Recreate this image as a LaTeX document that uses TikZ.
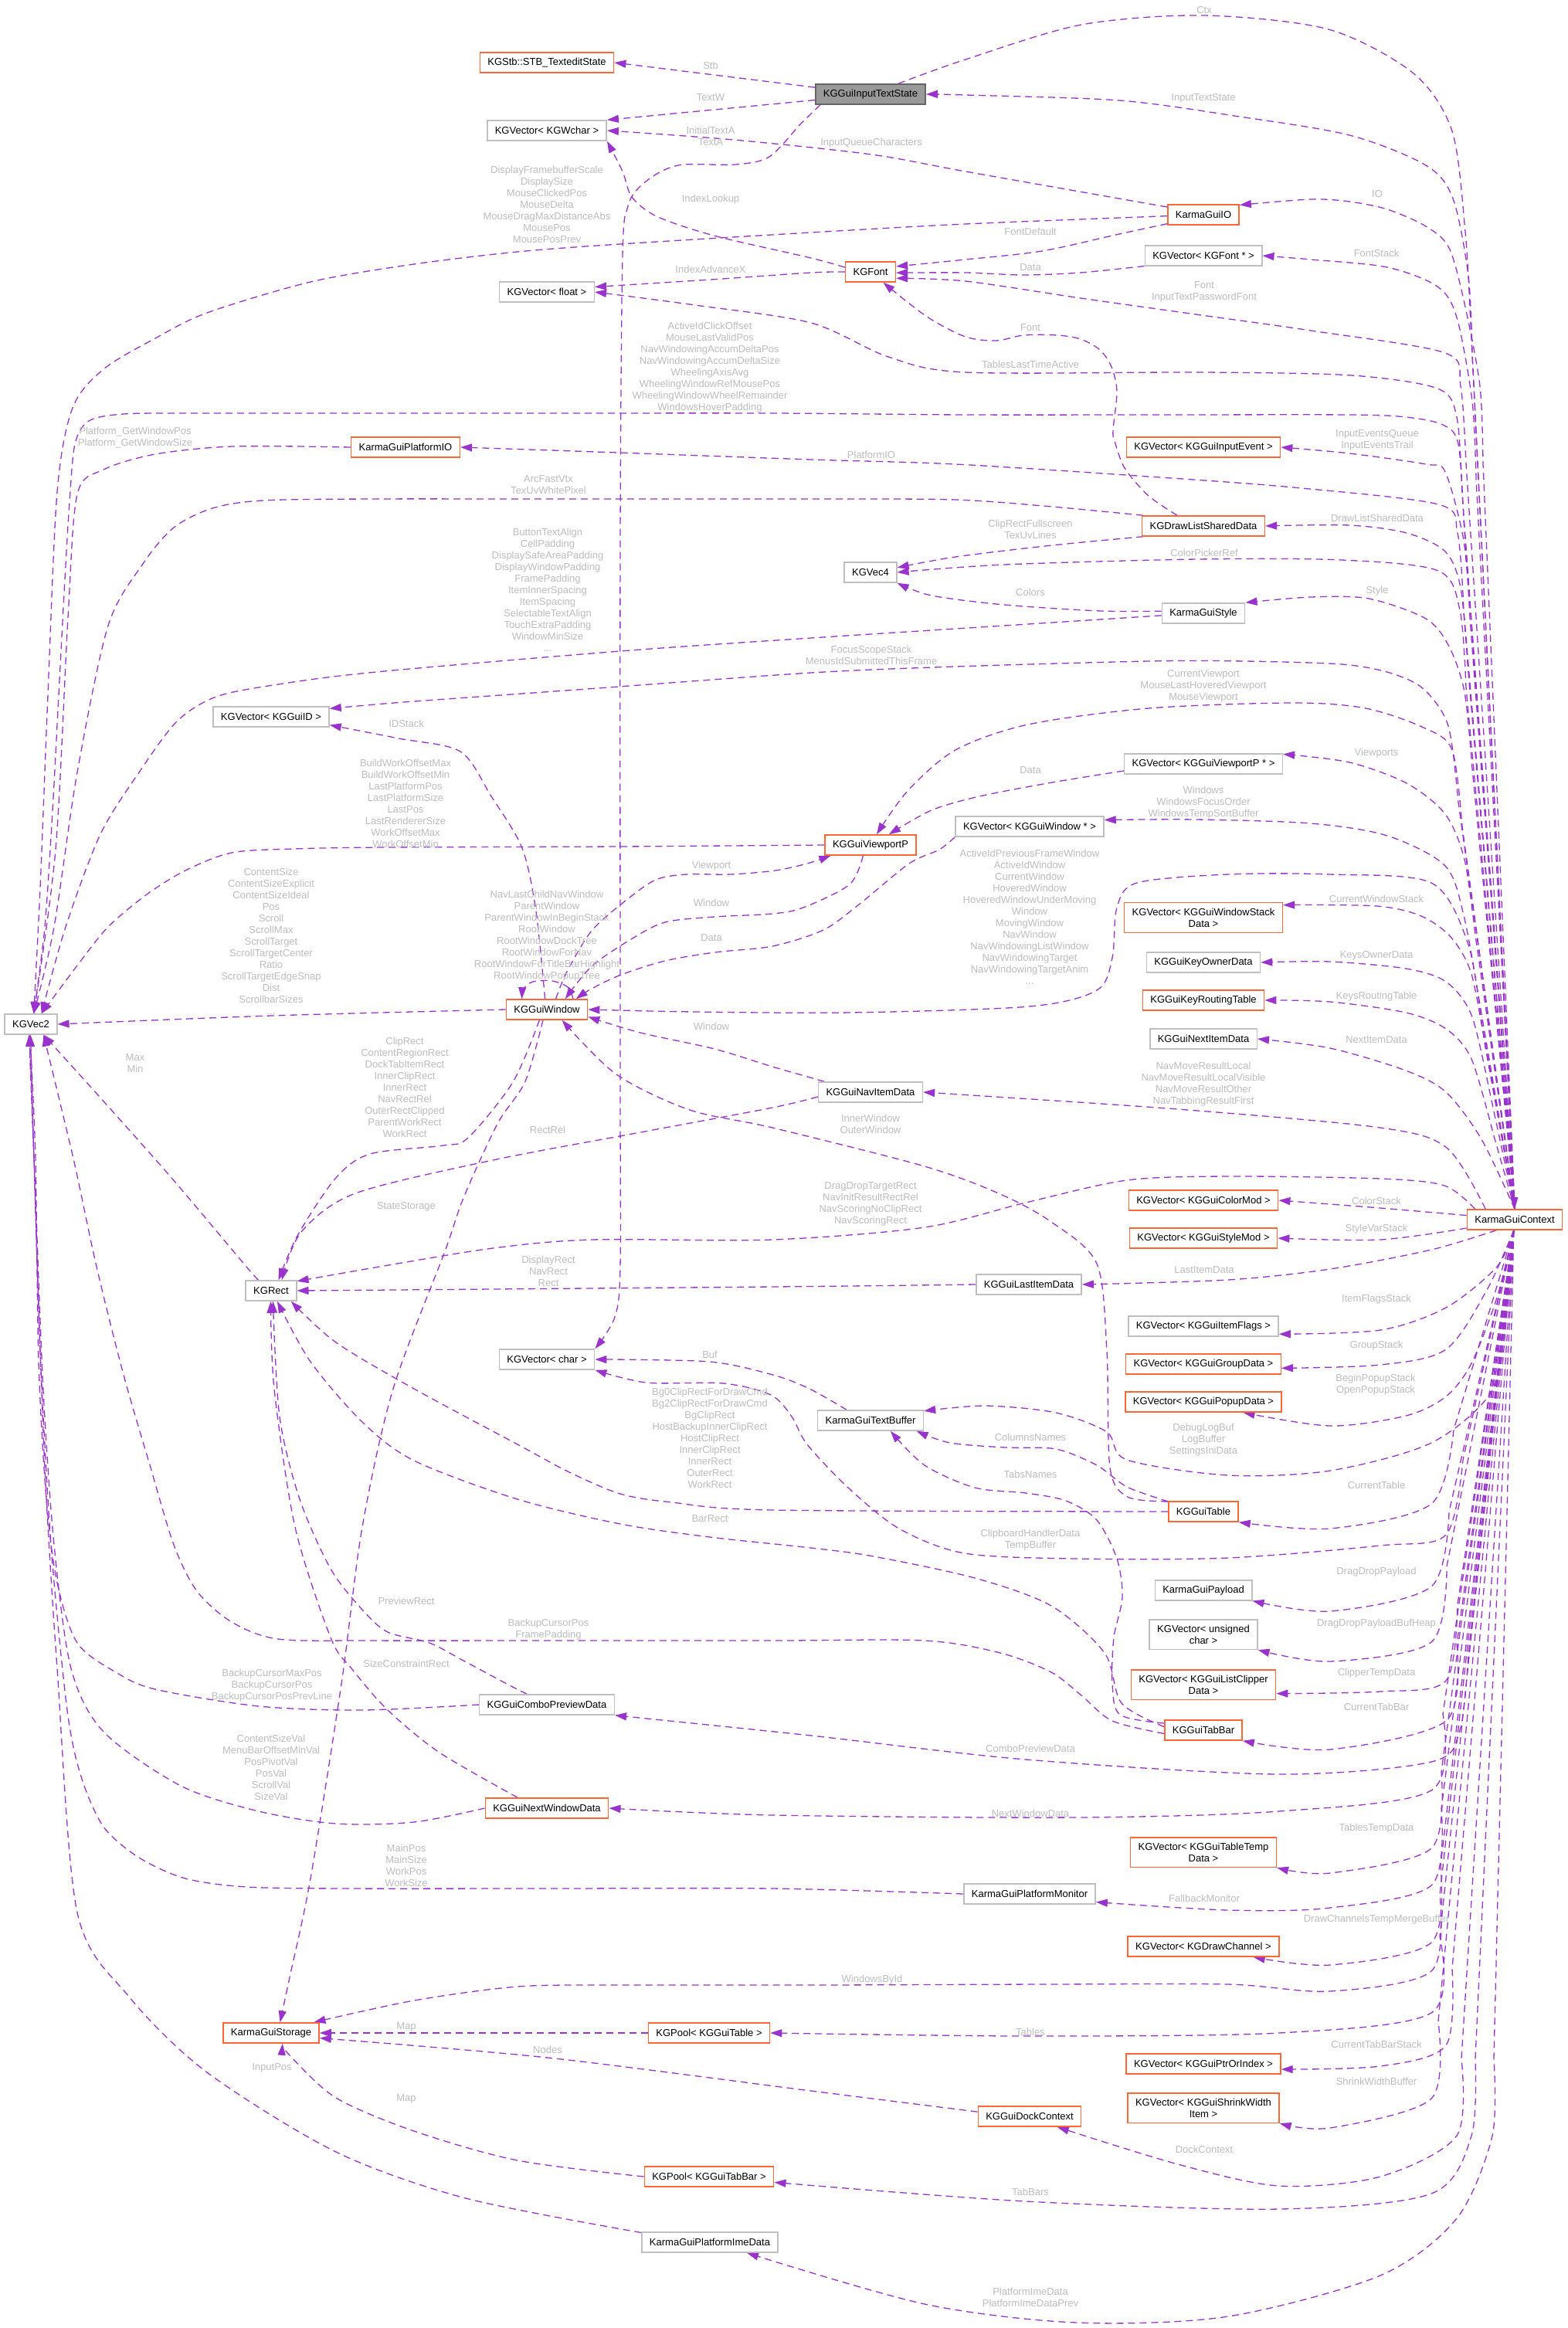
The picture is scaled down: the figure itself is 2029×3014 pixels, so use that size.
\documentclass[tikz,border=0pt]{standalone}
\usepackage{fontspec}
\setmainfont{Liberation Sans}
\usetikzlibrary{arrows.meta}
\definecolor{edgec}{HTML}{9A32CD}
\definecolor{orangeb}{HTML}{FF6633}
\definecolor{grayb}{HTML}{BFBFBF}
\definecolor{labelc}{HTML}{BDBDBD}
\definecolor{grayf}{HTML}{999999}
\definecolor{grayd}{HTML}{666666}
\newcommand\kgfont{\fontsize{13pt}{15pt}\selectfont}
\pgfdeclarelayer{edgelayer}
\pgfdeclarelayer{bglayer}
\pgfsetlayers{bglayer,edgelayer,main}
\tikzset{
 box/.style={draw=grayb, line width=1.5pt, fill=white, minimum height=26pt, inner xsep=10pt, inner ysep=7pt, font=\kgfont, align=center, text=black},
 obox/.style={box, draw=orangeb},
 fbox/.style={box, draw=grayd, fill=grayf},
 lbl/.style={text=labelc, font=\kgfont, align=center, inner sep=0pt},
 uedge/.style={draw=edgec, line width=1.3pt, dash pattern=on 9pt off 6pt, -{Triangle[length=15pt,width=10pt]}}
}
\begin{document}
\begin{tikzpicture}[x=1pt,y=-1pt]
\begin{pgfonlayer}{bglayer}
\fill[white] (0,0) rectangle (2029,3014);
\end{pgfonlayer}
\useasboundingbox (0,0) rectangle (2029,3014);
% ---------------- nodes
\node[obox] (stb) at (708,81) {KGStb::STB\_TexteditState};
\node[fbox] (its) at (1127,122) {KGGuiInputTextState};
\node[box] (wchar) at (708,169) {KGVector< KGWchar >};
\node[obox] (io) at (1558,278) {KarmaGuiIO};
\node[box] (fontv) at (1558,331) {KGVector< KGFont * >};
\node[obox] (font) at (1127,352) {KGFont};
\node[box] (float) at (708,378) {KGVector< float >};
\node[obox] (pio) at (525,579) {KarmaGuiPlatformIO};
\node[obox] (ievent) at (1558,579) {KGVector< KGGuiInputEvent >};
\node[obox] (dlsd) at (1558,681) {KGDrawListSharedData};
\node[box] (vec4) at (1127,741) {KGVec4};
\node[box] (style) at (1558,794) {KarmaGuiStyle};
\node[box] (id) at (351,928) {KGVector< KGGuiID >};
\node[box] (vpv) at (1558,989) {KGVector< KGGuiViewportP * >};
\node[box] (winv) at (1333,1070) {KGVector< KGGuiWindow * >};
\node[obox] (vp) at (1127,1094) {KGGuiViewportP};
\node[obox] (wstack) at (1558,1188) {KGVector< KGGuiWindowStack\\Data >};
\node[box] (keyown) at (1558,1246) {KGGuiKeyOwnerData};
\node[obox] (keyrt) at (1558,1295) {KGGuiKeyRoutingTable};
\node[box] (nextitem) at (1558,1345) {KGGuiNextItemData};
\node[box] (vec2) at (40,1326) {KGVec2};
\node[obox] (win) at (708,1307) {KGGuiWindow};
\node[box] (nav) at (1127,1414) {KGGuiNavItemData};
\node[obox] (ctx) at (1961,1579) {KarmaGuiContext};
\node[obox] (colmod) at (1558,1554) {KGVector< KGGuiColorMod >};
\node[obox] (stylemod) at (1558,1603) {KGVector< KGGuiStyleMod >};
\node[box] (rect) at (351,1671) {KGRect};
\node[box] (last) at (1332,1663) {KGGuiLastItemData};
\node[box] (flags) at (1558,1717) {KGVector< KGGuiItemFlags >};
\node[obox] (group) at (1558,1766) {KGVector< KGGuiGroupData >};
\node[obox] (popup) at (1558,1815) {KGVector< KGGuiPopupData >};
\node[box] (char) at (708,1760) {KGVector< char >};
\node[box] (tbuf) at (1127,1839) {KarmaGuiTextBuffer};
\node[obox] (table) at (1558,1957) {KGGuiTable};
\node[box] (payload) at (1558,2059) {KarmaGuiPayload};
\node[box] (uchar) at (1558,2116) {KGVector< unsigned\\char >};
\node[obox] (clip) at (1558,2181) {KGVector< KGGuiListClipper\\Data >};
\node[obox] (tabbar) at (1558,2240) {KGGuiTabBar};
\node[box] (combo) at (708,2207) {KGGuiComboPreviewData};
\node[obox] (nextwin) at (708,2341) {KGGuiNextWindowData};
\node[obox] (ttemp) at (1558,2398) {KGVector< KGGuiTableTemp\\Data >};
\node[box] (mon) at (1333,2452) {KarmaGuiPlatformMonitor};
\node[obox] (drawch) at (1558,2520) {KGVector< KGDrawChannel >};
\node[obox] (storage) at (351,2632) {KarmaGuiStorage};
\node[obox] (pooltab) at (918,2632) {KGPool< KGGuiTable >};
\node[obox] (ptr) at (1558,2672) {KGVector< KGGuiPtrOrIndex >};
\node[obox] (shrink) at (1558,2729) {KGVector< KGGuiShrinkWidth\\Item >};
\node[obox] (dock) at (1333,2740) {KGGuiDockContext};
\node[obox] (pooltabbar) at (918,2818) {KGPool< KGGuiTabBar >};
\node[box] (ime) at (919,2903) {KarmaGuiPlatformImeData};
% ---------------- labels
\node[lbl] (l01) at (920,85) {Stb};
\node[lbl] (l02) at (920,126) {TextW};
\node[lbl] (l03) at (920,176) {InitialTextA\\TextA};
\node[lbl] (l04) at (920,258) {IndexLookup};
\node[lbl] (l05) at (920,349) {IndexAdvanceX};
\node[lbl] (l06) at (919,476) {ActiveIdClickOffset\\MouseLastValidPos\\NavWindowingAccumDeltaPos\\NavWindowingAccumDeltaSize\\WheelingAxisAvg\\WheelingWindowRefMousePos\\WheelingWindowWheelRemainder\\WindowsHoverPadding};
\node[lbl] (l07) at (921,1121) {Viewport};
\node[lbl] (l08) at (921,1169) {Window};
\node[lbl] (l09) at (921,1214) {Data};
\node[lbl] (l10) at (921,1329) {Window};
\node[lbl] (l11) at (919,1754) {Buf};
\node[lbl] (l12) at (919,1862) {Bg0ClipRectForDrawCmd\\Bg2ClipRectForDrawCmd\\BgClipRect\\HostBackupInnerClipRect\\HostClipRect\\InnerClipRect\\InnerRect\\OuterRect\\WorkRect};
\node[lbl] (l13) at (919,1966) {BarRect};
\node[lbl] (l14) at (708,265) {DisplayFramebufferScale\\DisplaySize\\MouseClickedPos\\MouseDelta\\MouseDragMaxDistanceAbs\\MousePos\\MousePosPrev};
\node[lbl] (l15) at (710,628) {ArcFastVtx\\TexUvWhitePixel};
\node[lbl] (l16) at (709,764) {ButtonTextAlign\\CellPadding\\DisplaySafeAreaPadding\\DisplayWindowPadding\\FramePadding\\ItemInnerSpacing\\ItemSpacing\\SelectableTextAlign\\TouchExtraPadding\\WindowMinSize\\...};
\node[lbl] (l17) at (708,1212) {NavLastChildNavWindow\\ParentWindow\\ParentWindowInBeginStack\\RootWindow\\RootWindowDockTree\\RootWindowForNav\\RootWindowForTitleBarHighlight\\RootWindowPopupTree};
\node[lbl] (l18) at (709,1463) {RectRel};
\node[lbl] (l19) at (710,1646) {DisplayRect\\NavRect\\Rect};
\node[lbl] (l20) at (710,2110) {BackupCursorPos\\FramePadding};
\node[lbl] (l21) at (709,2654) {Nodes};
\node[lbl] (l22) at (526,937) {IDStack};
\node[lbl] (l23) at (525,1040) {BuildWorkOffsetMax\\BuildWorkOffsetMin\\LastPlatformPos\\LastPlatformSize\\LastPos\\LastRendererSize\\WorkOffsetMax\\WorkOffsetMin};
\node[lbl] (l24) at (524,1408) {ClipRect\\ContentRegionRect\\DockTabItemRect\\InnerClipRect\\InnerRect\\NavRectRel\\OuterRectClipped\\ParentWorkRect\\WorkRect};
\node[lbl] (l25) at (526,1562) {StateStorage};
\node[lbl] (l26) at (526,2073) {PreviewRect};
\node[lbl] (l27) at (526,2154) {SizeConstraintRect};
\node[lbl] (l28) at (526,2415) {MainPos\\MainSize\\WorkPos\\WorkSize};
\node[lbl] (l29) at (526,2624) {Map};
\node[lbl] (l30) at (526,2717) {Map};
\node[lbl] (l31) at (351,1219) {ContentSize\\ContentSizeExplicit\\ContentSizeIdeal\\Pos\\Scroll\\ScrollMax\\ScrollTarget\\ScrollTargetCenter\\Ratio\\ScrollTargetEdgeSnap\\Dist\\ScrollbarSizes\\...};
\node[lbl] (l32) at (352,2182) {BackupCursorMaxPos\\BackupCursorPos\\BackupCursorPosPrevLine};
\node[lbl] (l33) at (351,2288) {ContentSizeVal\\MenuBarOffsetMinVal\\PosPivotVal\\PosVal\\ScrollVal\\SizeVal};
\node[lbl] (l34) at (352,2677) {InputPos};
\node[lbl] (l35) at (175,567) {Platform\_GetWindowPos\\Platform\_GetWindowSize};
\node[lbl] (l36) at (175,1377) {Max\\Min};
\node[lbl] (l37) at (1128,185) {InputQueueCharacters};
\node[lbl] (l38) at (1128,589) {PlatformIO};
\node[lbl] (l39) at (1128,848) {FocusScopeStack\\MenusIdSubmittedThisFrame};
\node[lbl] (l40) at (1127,1455) {InnerWindow\\OuterWindow};
\node[lbl] (l41) at (1127,1559) {DragDropTargetRect\\NavInitResultRectRel\\NavScoringNoClipRect\\NavScoringRect};
\node[lbl] (l42) at (1129,2563) {WindowsById};
\node[lbl] (l43) at (1334,300) {FontDefault};
\node[lbl] (l44) at (1334,346) {Data};
\node[lbl] (l45) at (1334,424) {Font};
\node[lbl] (l46) at (1334,472) {TablesLastTimeActive};
\node[lbl] (l47) at (1334,685) {ClipRectFullscreen\\TexUvLines};
\node[lbl] (l48) at (1334,767) {Colors};
\node[lbl] (l49) at (1334,997) {Data};
\node[lbl] (l50) at (1333,1187) {ActiveIdPreviousFrameWindow\\ActiveIdWindow\\CurrentWindow\\HoveredWindow\\HoveredWindowUnderMoving\\Window\\MovingWindow\\NavWindow\\NavWindowingListWindow\\NavWindowingTarget\\NavWindowingTargetAnim\\...};
\node[lbl] (l51) at (1334,1861) {ColumnsNames};
\node[lbl] (l52) at (1334,1909) {TabsNames};
\node[lbl] (l53) at (1334,1994) {ClipboardHandlerData\\TempBuffer};
\node[lbl] (l54) at (1334,2264) {ComboPreviewData};
\node[lbl] (l55) at (1334,2348) {NextWindowData};
\node[lbl] (l56) at (1334,2631) {Tables};
\node[lbl] (l57) at (1334,2838) {TabBars};
\node[lbl] (l58) at (1334,2974) {PlatformImeData\\PlatformImeDataPrev};
\node[lbl] (l59) at (1559,13) {Ctx};
\node[lbl] (l60) at (1558,127) {InputTextState};
\node[lbl] (l61) at (1559,378) {Font\\InputTextPasswordFont};
\node[lbl] (l62) at (1559,716) {ColorPickerRef};
\node[lbl] (l63) at (1558,888) {CurrentViewport\\MouseLastHoveredViewport\\MouseViewport};
\node[lbl] (l64) at (1558,1039) {Windows\\WindowsFocusOrder\\WindowsTempSortBuffer};
\node[lbl] (l65) at (1558,1404) {NavMoveResultLocal\\NavMoveResultLocalVisible\\NavMoveResultOther\\NavTabbingResultFirst};
\node[lbl] (l66) at (1559,1644) {LastItemData};
\node[lbl] (l67) at (1558,1864) {DebugLogBuf\\LogBuffer\\SettingsIniData};
\node[lbl] (l68) at (1559,2458) {FallbackMonitor};
\node[lbl] (l69) at (1559,2783) {DockContext};
\node[lbl] (l70) at (1783,251) {IO};
\node[lbl] (l71) at (1782,328) {FontStack};
\node[lbl] (l72) at (1783,570) {InputEventsQueue\\InputEventsTrail};
\node[lbl] (l73) at (1783,671) {DrawListSharedData};
\node[lbl] (l74) at (1783,765) {Style};
\node[lbl] (l75) at (1782,975) {Viewports};
\node[lbl] (l76) at (1782,1164) {CurrentWindowStack};
\node[lbl] (l77) at (1782,1237) {KeysOwnerData};
\node[lbl] (l78) at (1782,1290) {KeysRoutingTable};
\node[lbl] (l79) at (1782,1346) {NextItemData};
\node[lbl] (l80) at (1782,1555) {ColorStack};
\node[lbl] (l81) at (1782,1591) {StyleVarStack};
\node[lbl] (l82) at (1782,1682) {ItemFlagsStack};
\node[lbl] (l83) at (1782,1742) {GroupStack};
\node[lbl] (l84) at (1781,1793) {BeginPopupStack\\OpenPopupStack};
\node[lbl] (l85) at (1782,1923) {CurrentTable};
\node[lbl] (l86) at (1782,2035) {DragDropPayload};
\node[lbl] (l87) at (1782,2102) {DragDropPayloadBufHeap};
\node[lbl] (l88) at (1782,2166) {ClipperTempData};
\node[lbl] (l89) at (1782,2210) {CurrentTabBar};
\node[lbl] (l90) at (1782,2367) {TablesTempData};
\node[lbl] (l91) at (1782,2485) {DrawChannelsTempMergeBuffer};
\node[lbl] (l92) at (1782,2647) {CurrentTabBarStack};
\node[lbl] (l93) at (1782,2695) {ShrinkWidthBuffer};
% ---------------- edges
\begin{pgfonlayer}{edgelayer}
% InputTextState
\draw[uedge] (its.173) -- (stb.east);
\draw[uedge] (its.-174) -- (wchar.10);
\draw[uedge] plot[smooth] coordinates {(its.-168) (1037,160) (996,203) (952,213) (885,213) (854,223) (827,243) (813,267) (806,330) (803,700) (803,1400) (803,1640) (796,1705) (char.north east)};
\draw[uedge] plot[smooth] coordinates {(its.21) (1250,77) (1400,32) (1559,20) (1720,38) (1830,95) (1880,170) (1897,300) (1903,400)} -- (ctx.north);
% IO
\draw[uedge] plot[smooth] coordinates {(io.168) (1250,222) (1128,200) (950,181) (wchar.east)};
\draw[uedge] plot[smooth] coordinates {(io.-178) (1250,290) (1050,301) (803,316) (670,326) (536,342) (402,365) (268,405) (201,438) (134,478) (94,528) (74,637) (62,900) (52,1150) (vec2.75)};
\draw[uedge] plot[smooth] coordinates {(io.-166) (1449,303) (1349,325) (1250,336) (font.12)};
\draw[uedge] plot[smooth] coordinates {(fontv.-170) (1399,353) (1325,356) (1250,353) (font.-2)};
% Font
\draw[uedge] plot[smooth] coordinates {(font.170) (1050,334) (924,305) (850,280) (818,255) (806,222) (wchar.-10)};
\draw[uedge] plot[smooth] coordinates {(font.west) (1050,353) (920,362) (float.6)};
% Context upper
\draw[uedge] (ctx.north) -- plot[smooth] coordinates {(1906,457) (1901,357) (1881,257) (1846,214) (1747,175) (1598,150) (1449,130) (1250,123) (its.east)};
\draw[uedge] (ctx.north) -- plot[smooth] coordinates {(1920,600) (1916,500) (1896,393) (1876,321) (1846,293) (1796,271) (1747,261) (1697,258) (io.15)};
\draw[uedge] (ctx.north) -- plot[smooth] coordinates {(1911,620) (1906,520) (1886,411) (1861,371) (1796,346) (1697,336) (fontv.east)};
\draw[uedge] (ctx.north) -- plot[smooth] coordinates {(1898,600) (1891,500) (1871,457) (1697,428) (1548,407) (1399,386) (1250,364) (font.-14)};
\draw[uedge] (ctx.north) -- plot[smooth] coordinates {(1893,640) (1886,540) (1861,503) (1750,486) (1558,482) (1250,482) (1150,462) (1050,418) (900,395) (float.east)};
\draw[uedge] (ctx.north) -- plot[smooth] coordinates {(1895,675) (1888,575) (1868,550) (1820,540) (1747,537) (1500,537) (1250,537) (1000,535) (700,535) (400,535) (250,535) (160,536) (115,545) (97,575) (90,650) (84,750) (76,900) (68,1050) (58,1200) (vec2.75)};
\draw[uedge] (ctx.north) -- plot[smooth] coordinates {(1895,790) (1887,690) (1862,653) (1674,631) (1487,617) (1237,601) (1050,595) (800,586) (pio.east)};
\draw[uedge] (ctx.north) -- plot[smooth] coordinates {(1903,800) (1895,700) (1871,611) (1846,601) (1747,587) (ievent.east)};
\draw[uedge] (ctx.north) -- plot[smooth] coordinates {(1900,860) (1891,761) (1871,714) (1821,690) (1747,680) (dlsd.east)};
\draw[uedge] (ctx.north) -- plot[smooth] coordinates {(1898,890) (1890,790) (1862,739) (1737,725) (1550,724) (1300,731) (vec4.east)};
\draw[uedge] (ctx.north) -- plot[smooth] coordinates {(1906,995) (1896,896) (1876,837) (1846,801) (1772,775) (1697,773) (style.north east)};
\draw[uedge] (ctx.north) -- plot[smooth] coordinates {(1888,1039) (1875,940) (1843,892) (1799,871) (1737,860) (1612,856) (1487,856) (1237,863) (1050,871) (774,891) (620,902) (510,910) (id.8)};
\draw[uedge] (ctx.north) -- plot[smooth] coordinates {(1893,1070) (1880,971) (1843,942) (1768,917) (1674,910) (1487,917) (1331,938) (1237,971) (1175,1024) (vp.60)};
\draw[uedge] (ctx.north) -- plot[smooth] coordinates {(1910,1211) (1896,1113) (1871,1054) (1821,1014) (1747,987) (vpv.7)};
\draw[uedge] (ctx.north) -- plot[smooth] coordinates {(1913,1283) (1895,1185) (1871,1121) (1796,1082) (1697,1066) (1548,1061) (winv.5)};
\draw[uedge] (ctx.north) -- plot[smooth] coordinates {(1917,1316) (1900,1220) (1853,1143) (1722,1132) (1590,1132) (1472,1143) (1446,1175) (1440,1240) (1420,1282) (1333,1303) (1100,1311) (900,1310) (win.east)};
\draw[uedge] (ctx.north) -- plot[smooth] coordinates {(1923,1356) (1905,1261) (1879,1214) (1840,1186) (1782,1173) (wstack.9)};
\draw[uedge] (ctx.north) -- plot[smooth] coordinates {(1927,1406) (1905,1314) (1872,1271) (1820,1254) (1722,1245) (keyown.east)};
\draw[uedge] (ctx.north) -- plot[smooth] coordinates {(1933,1467) (1905,1371) (1872,1332) (1820,1311) (1722,1297) (keyrt.east)};
\draw[uedge] plot[smooth] coordinates {(ctx.north) (1918,1475) (1872,1414) (1820,1386) (1722,1357) (nextitem.east)};
\draw[uedge] plot[smooth] coordinates {(ctx.160) (1873,1486) (1787,1460) (1525,1436) (nav.east)};
\draw[uedge] plot[smooth] coordinates {(ctx.165) (1870,1535) (1787,1526) (1590,1523) (1459,1528) (1328,1557) (1197,1589) (1000,1605) (766,1605) (638,1616) (491,1640) (rect.20)};
\draw[uedge] plot[smooth] coordinates {(ctx.175) (1787,1564) (colmod.east)};
\draw[uedge] plot[smooth] coordinates {(ctx.-170) (1787,1605) (stylemod.east)};
% PlatformIO, DrawListSharedData, Style
\draw[uedge] plot[smooth] coordinates {(pio.west) (301,578) (201,588) (134,608) (100,640) (88,800) (72,1100) (vec2.75)};
\draw[uedge] plot[smooth] coordinates {(dlsd.158) (1487,642) (1456,606) (1443,571) (1441,557) (1446,507) (1439,475) (1424,453) (1399,439) (1369,434) (1325,434) (1290,441) (1250,436) (1200,410) (font.-40)};
\draw[uedge] plot[smooth] coordinates {(dlsd.-170) (1362,706) (1237,721) (vec4.10)};
\draw[uedge] plot[smooth] coordinates {(dlsd.170) (1362,656) (1237,647) (1050,646) (700,646) (480,646) (340,648) (275,658) (225,683) (185,730) (140,810) (100,1000) (70,1200) (vec2.75)};
\draw[uedge] plot[smooth] coordinates {(style.177) (1425,791) (1300,783) (1206,771) (vec4.south east)};
\draw[uedge] plot[smooth] coordinates {(style.-177) (1300,810) (1050,826) (803,843) (487,870) (360,886) (280,902) (229,934) (180,1000) (130,1080) (85,1200) (vec2.45)};
% Viewports / windows
\draw[uedge] plot[smooth] coordinates {(vpv.-175) (1362,1013) (1268,1031) (1206,1049) (vp.30)};
\draw[uedge] plot[smooth] coordinates {(winv.south west) (1216,1100) (1177,1118) (1112,1171) (1066,1204) (1000,1225) (925,1233) (861,1244) (804,1262) (766,1280) (win.20)};
\draw[uedge] plot[smooth] coordinates {(vp.-125) (1100,1145) (1040,1175) (1000,1183) (925,1187) (861,1194) (817,1216) (766,1251) (win.30)};
\draw[uedge] plot[smooth] coordinates {(win.50) (734,1258) (766,1205) (810,1166) (849,1139) (889,1132) (946,1132) (1004,1127) (1045,1118) (vp.-165)};
\draw[uedge] plot[smooth] coordinates {(vp.west) (800,1096) (500,1097) (380,1099) (300,1104) (240,1127) (190,1158) (140,1200) (100,1250) (vec2.45)};
\draw[uedge] plot[smooth] coordinates {(win.100) (694,1180) (676,1098) (636,1031) (596,973) (516,956) (id.-8)};
\draw[uedge] plot[smooth] coordinates {(win.west) (351,1315) (vec2.east)};
\draw[uedge] plot[smooth] coordinates {(win.22) (735,1278) (715,1270) (690,1271) (678,1280) (win.157)};
\draw[uedge] plot[smooth] coordinates {(nav.167) (1000,1381) (925,1358) (829,1337) (win.-10)};
\draw[uedge] plot[smooth] coordinates {(nav.-175) (1000,1434) (829,1466) (638,1502) (460,1545) (390,1595) (rect.45)};
\draw[uedge] plot[smooth] coordinates {(win.-125) (664,1401) (606,1473) (574,1483) (479,1494) (434,1526) (385,1600) (rect.55)};
\draw[uedge] plot[smooth] coordinates {(win.-110) (680,1400) (644,1455) (600,1551) (576,1620) (509,1798) (469,1977) (442,2180) (402,2432) (375,2560) (storage.50)};
% rect / last item
\draw[uedge] plot[smooth] coordinates {(ctx.-150) (1853,1618) (1722,1643) (1590,1657) (last.east)};
\draw[uedge] plot[smooth] coordinates {(last.west) (1000,1666) (rect.east)};
\draw[uedge] plot[smooth] coordinates {(rect.140) (319,1640) (223,1526) (128,1419) (vec2.-40)};
% Context lower
\draw[uedge] plot[smooth] coordinates {(ctx.-95) (1938,1640) (1872,1693) (1787,1722) (flags.-6)};
\draw[uedge] plot[smooth] coordinates {(ctx.-95) (1925,1670) (1872,1747) (1787,1767) (group.-3)};
\draw[uedge] plot[smooth] coordinates {(ctx.-95) (1938,1680) (1905,1765) (1872,1808) (1820,1833) (1722,1846) (popup.-15)};
\draw[uedge] plot[smooth] coordinates {(ctx.-95) (1950,1700) (1932,1800) (1853,1868) (1722,1904) (1590,1910) (1459,1890) (1433,1854) (1367,1829) (1276,1820) (tbuf.10)};
\draw[uedge] (ctx.-95) -- plot[smooth] coordinates {(1882,1851) (1853,1947) (1722,1979) (table.south east)};
\draw[uedge] (ctx.-95) -- plot[smooth] coordinates {(1894,1890) (1872,1987) (1787,2001) (1590,2017) (1394,2018) (1249,2011) (1164,1979) (1098,1926) (1045,1870) (1025,1834) (998,1806) (937,1791) (837,1790) (char.south east)};
\draw[uedge] (ctx.-95) -- plot[smooth] coordinates {(1876,1957) (1853,2054) (1722,2086) (payload.-12)};
\draw[uedge] (ctx.-95) -- plot[smooth] coordinates {(1873,2028) (1853,2126) (1722,2151) (uchar.south east)};
\draw[uedge] (ctx.-95) -- plot[smooth] coordinates {(1887,2077) (1872,2176) (1787,2190) (clip.-7)};
\draw[uedge] (ctx.-95) -- plot[smooth] coordinates {(1886,2129) (1872,2228) (1722,2265) (tabbar.south east)};
\draw[uedge] (ctx.-95) -- plot[smooth] coordinates {(1901,2141) (1890,2240) (1853,2281) (1656,2297) (1328,2278) (1050,2247) (combo.south east)};
\draw[uedge] (ctx.-95) -- plot[smooth] coordinates {(1868,2219) (1853,2318) (1656,2345) (1394,2353) (1000,2350) (nextwin.east)};
\draw[uedge] (ctx.-95) -- plot[smooth] coordinates {(1866,2294) (1853,2393) (1722,2425) (ttemp.south east)};
\draw[uedge] (ctx.-95) -- plot[smooth] coordinates {(1866,2342) (1853,2441) (1722,2470) (1590,2473) (mon.-7)};
\draw[uedge] (ctx.-95) -- plot[smooth] coordinates {(1865,2416) (1853,2515) (1722,2544) (drawch.-12)};
\draw[uedge] (ctx.-95) -- plot[smooth] coordinates {(1864,2453) (1853,2552) (1722,2578) (1590,2569) (1350,2569) (1050,2570) (800,2570) (670,2572) (536,2590) (storage.14)};
\draw[uedge] (ctx.-95) -- plot[smooth] coordinates {(1864,2507) (1853,2606) (1656,2632) (1328,2636) (pooltab.east)};
\draw[uedge] (ctx.-95) -- plot[smooth] coordinates {(1880,2549) (1872,2648) (1787,2675) (ptr.-4)};
\draw[uedge] (ctx.-95) -- plot[smooth] coordinates {(1862,2617) (1853,2717) (1722,2755) (shrink.south east)};
\draw[uedge] (ctx.-95) -- plot[smooth] coordinates {(1892,2665) (1886,2765) (1787,2818) (1656,2830) (1525,2802) (dock.-21)};
\draw[uedge] (ctx.-95) -- plot[smooth] coordinates {(1910,2665) (1905,2765) (1853,2840) (1656,2860) (1328,2850) (pooltabbar.-5)};
\draw[uedge] (ctx.-95) -- plot[smooth] coordinates {(1934,2665) (1932,2765) (1886,2872) (1787,2946) (1590,2999) (1394,3007) (1197,2983) (ime.-16)};
% text buffer, table, tab bar
\draw[uedge] plot[smooth] coordinates {(tbuf.156) (1050,1799) (1004,1781) (919,1763) (char.east)};
\draw[uedge] plot[smooth] coordinates {(table.164) (1459,1925) (1420,1897) (1367,1876) (1302,1874) (1230,1868) (tbuf.-13)};
\draw[uedge] plot[smooth] coordinates {(tabbar.170) (1450,2220) (1440,2180) (1442,2120) (1453,2068) (1446,2018) (1420,1968) (1380,1943) (1328,1933) (1262,1926) (1197,1897) (tbuf.-28)};
\draw[uedge] plot[smooth] coordinates {(table.164) (1460,1938) (1437,1900) (1433,1750) (1420,1636) (1361,1582) (1295,1546) (1197,1510) (1000,1460) (893,1437) (798,1391) (win.-35)};
\draw[uedge] plot[smooth] coordinates {(table.west) (1000,1955) (870,1945) (803,1934) (737,1906) (670,1870) (536,1798) (435,1738) (rect.-28)};
\draw[uedge] plot[smooth] coordinates {(tabbar.175) (1452,2205) (1430,2140) (1361,2079) (1262,2043) (1131,2015) (1050,2004) (919,1990) (803,1973) (670,1941) (536,1891) (469,1841) (402,1763) (rect.-60)};
\draw[uedge] plot[smooth] coordinates {(tabbar.-175) (1440,2228) (1400,2195) (1361,2165) (1295,2140) (1197,2124) (1000,2124) (700,2124) (480,2124) (360,2122) (300,2100) (255,2060) (225,2000) (195,1900) (160,1780) (125,1640) (95,1500) (vec2.-40)};
% combo, next window, monitor, ime
\draw[uedge] plot[smooth] coordinates {(combo.152) (656,2180) (600,2150) (556,2127) (502,2113) (469,2084) (428,2031) (388,1941) (362,1834) (rect.-80)};
\draw[uedge] plot[smooth] coordinates {(nextwin.160) (569,2269) (502,2214) (455,2160) (428,2120) (382,1977) (355,1798) (rect.-92)};
\draw[uedge] plot[smooth] coordinates {(combo.west) (469,2214) (335,2209) (201,2187) (150,2165) (100,2127) (74,2049) (60,1941) (50,1763) (46,1500) (vec2.-95)};
\draw[uedge] plot[smooth] coordinates {(nextwin.west) (536,2359) (435,2361) (335,2345) (234,2312) (134,2242) (92,2160) (70,2000) (56,1800) (46,1550) (vec2.-100)};
\draw[uedge] plot[smooth] coordinates {(mon.west) (1000,2445) (700,2445) (450,2445) (320,2443) (240,2432) (180,2405) (134,2365) (105,2300) (87,2214) (66,2000) (52,1750) (44,1500) (vec2.-98)};
\draw[uedge] plot[smooth] coordinates {(ime.172) (603,2846) (435,2786) (268,2683) (167,2585) (100,2476) (74,2160) (58,1900) (47,1600) (vec2.-92)};
% storage
\draw[uedge] (pooltab.west) -- (storage.east);
\draw[uedge] plot[smooth] coordinates {(dock.175) (1050,2707) (709,2664) (storage.-6)};
\draw[uedge] plot[smooth] coordinates {(pooltabbar.west) (670,2797) (536,2759) (435,2716) (375,2661) (storage.-43)};
\end{pgfonlayer}
\end{tikzpicture}
\end{document}
